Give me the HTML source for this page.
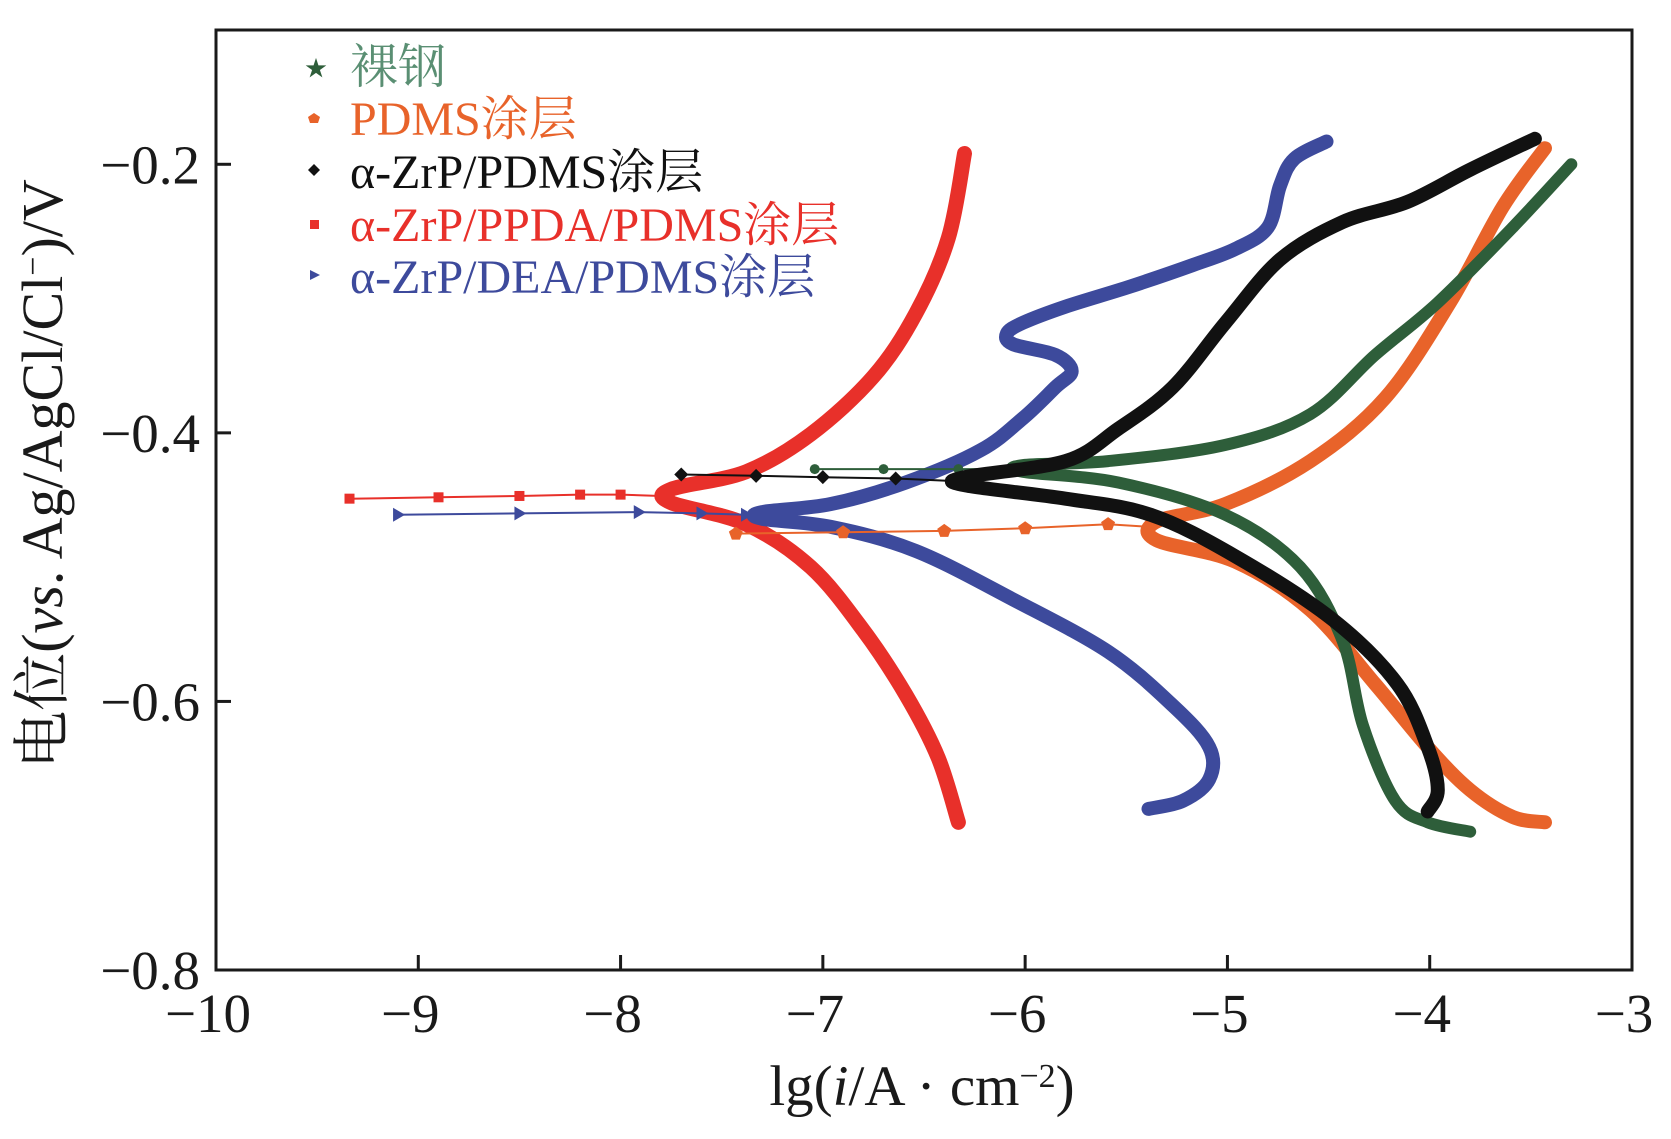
<!DOCTYPE html>
<html><head><meta charset="utf-8"><style>
html,body{margin:0;padding:0;background:#fff}
svg{display:block;font-family:"Liberation Serif","Noto Serif CJK SC",serif}
</style></head><body>
<svg id="chart" width="1671" height="1139" viewBox="0 0 1671 1139" xmlns="http://www.w3.org/2000/svg">
<rect x="216" y="30" width="1416" height="940" fill="none" stroke="#1a1a1a" stroke-width="3"/>
<g id="ticks"></g>
<g id="series"></g>
<g id="legend" font-size="48">
  <g><text x="305" y="76" fill="#2e5e3a" font-size="22">★</text><text x="350" y="83" fill="#5a8f73">裸钢</text></g>
  <g><polygon points="314,113 320,117 318,123 310,123 308,117" fill="#e8632a"/><text x="350" y="135" fill="#e8632a">PDMS涂层</text></g>
  <g><polygon points="314,164 320,170 314,176 308,170" fill="#111"/><text x="350" y="188" fill="#111">α-ZrP/PDMS涂层</text></g>
  <g><rect x="310" y="220" width="9" height="9" fill="#e8302a"/><text x="350" y="241" fill="#e8302a">α-ZrP/PPDA/PDMS涂层</text></g>
  <g><polygon points="310,270 320,275 310,280" fill="#3d4a9c"/><text x="350" y="293" fill="#3d4a9c">α-ZrP/DEA/PDMS涂层</text></g>
</g>
<text x="922" y="1105" font-size="57" text-anchor="middle" fill="#1a1a1a">lg(<tspan font-style="italic">i</tspan>/A · cm<tspan baseline-shift="super" font-size="34">−2</tspan>)</text>
<text transform="translate(62,474) rotate(-90)" font-size="58" text-anchor="middle" fill="#1a1a1a">电位(<tspan font-style="italic">vs</tspan>. Ag/AgCl/Cl<tspan baseline-shift="super" font-size="34">−</tspan>)/V</text>
</svg>
<script>
const xTicks=[-10,-9,-8,-7,-6,-5,-4,-3];
const yTicks=[-0.8,-0.6,-0.4,-0.2];
const yTickLabels=["−0.8","−0.6","−0.4","−0.2"];
const xTickLabels=["−10","−9","−8","−7","−6","−5","−4","−3"];
// series: [lg i, E]
const redLead=[[-9.34,-0.449],[-8.9,-0.448],[-8.5,-0.447],[-8.2,-0.446],[-8.0,-0.446],[-7.8,-0.447]];
const redMain=[[-6.33,-0.690],[-6.43,-0.642],[-6.59,-0.595],[-6.80,-0.547],[-7.06,-0.500],[-7.38,-0.468],[-7.75,-0.452],[-7.75,-0.442],[-7.38,-0.429],[-7.06,-0.401],[-6.75,-0.358],[-6.54,-0.311],[-6.38,-0.255],[-6.30,-0.192]];
const blueLead=[[-9.10,-0.461],[-8.5,-0.460],[-7.91,-0.459],[-7.6,-0.460],[-7.38,-0.461]];
const blueMain=[[-5.39,-0.680],[-5.22,-0.674],[-5.09,-0.658],[-5.09,-0.634],[-5.27,-0.603],[-5.59,-0.563],[-6.06,-0.524],[-6.54,-0.488],[-6.96,-0.470],[-7.3,-0.464],[-7.3,-0.459],[-6.96,-0.453],[-6.59,-0.437],[-6.22,-0.413],[-6.01,-0.389],[-5.85,-0.366],[-5.77,-0.354],[-5.85,-0.342],[-6.06,-0.334],[-6.09,-0.326],[-6.01,-0.318],[-5.80,-0.306],[-5.48,-0.291],[-5.17,-0.275],[-4.96,-0.263],[-4.80,-0.247],[-4.74,-0.216],[-4.67,-0.196],[-4.51,-0.183]];
const blackLead=[[-7.70,-0.431],[-7.33,-0.432],[-7.0,-0.433],[-6.64,-0.434],[-6.33,-0.436]];
const blackMain=[[-4.01,-0.682],[-3.96,-0.666],[-4.01,-0.634],[-4.16,-0.587],[-4.48,-0.539],[-4.96,-0.492],[-5.38,-0.461],[-5.80,-0.449],[-6.3,-0.439],[-6.3,-0.433],[-5.80,-0.421],[-5.54,-0.397],[-5.27,-0.366],[-5.01,-0.318],[-4.74,-0.271],[-4.43,-0.243],[-4.11,-0.228],[-3.80,-0.204],[-3.48,-0.181]];
const greenLead=[[-7.04,-0.427],[-6.7,-0.427],[-6.33,-0.427],[-6.01,-0.427]];
const greenMain=[[-3.80,-0.697],[-4.01,-0.690],[-4.17,-0.674],[-4.33,-0.618],[-4.43,-0.555],[-4.64,-0.500],[-5.01,-0.461],[-5.54,-0.437],[-6.01,-0.429],[-6.01,-0.424],[-5.59,-0.421],[-5.01,-0.409],[-4.59,-0.386],[-4.27,-0.342],[-3.96,-0.303],[-3.59,-0.247],[-3.30,-0.200]];
const orangeLead=[[-7.43,-0.475],[-6.9,-0.474],[-6.4,-0.473],[-6.0,-0.471],[-5.59,-0.468],[-5.38,-0.470]];
const orangeMain=[[-3.43,-0.690],[-3.59,-0.686],[-3.80,-0.666],[-4.01,-0.634],[-4.27,-0.587],[-4.59,-0.532],[-4.96,-0.496],[-5.35,-0.480],[-5.35,-0.466],[-5.01,-0.453],[-4.59,-0.421],[-4.22,-0.374],[-3.90,-0.303],[-3.64,-0.232],[-3.43,-0.188]];

const X0=216,X1=1632,Y0=970,Y1=30;
const sx=v=>X0+(v-(-10))/7*(X1-X0);
const sy=v=>Y0-(v-(-0.8))/0.7*(Y0-Y1);
const NS="http://www.w3.org/2000/svg";
const tg=document.getElementById('ticks');
function mk(tag,attrs,parent){const e=document.createElementNS(NS,tag);for(const k in attrs)e.setAttribute(k,attrs[k]);parent.appendChild(e);return e;}
xTicks.forEach((t,i)=>{
  if(i>0&&i<xTicks.length-1){const l=mk('line',{x1:sx(t),x2:sx(t),y1:Y0,y2:Y0-15,stroke:'#1a1a1a','stroke-width':3},tg);
  
  }
  const tx=mk('text',{x:sx(t)-8,y:Y0+62,'font-size':55,'text-anchor':'middle',fill:'#1a1a1a'},tg);
  tx.textContent=xTickLabels[i];
  
  
});
yTicks.forEach((t,i)=>{
  if(i>0){const l=mk('line',{x1:X0,x2:X0+15,y1:sy(t),y2:sy(t),stroke:'#1a1a1a','stroke-width':3},tg);
  
  }
  const tx=mk('text',{x:X0-16,y:sy(t)+19,'font-size':55,'text-anchor':'end',fill:'#1a1a1a'},tg);
  tx.textContent=yTickLabels[i];
  
  
});
const sg=document.getElementById('series');
function pathD(a){
  const p=a.map(q=>[sx(q[0]),sy(q[1])]);
  let d='M'+p[0][0].toFixed(1)+','+p[0][1].toFixed(1);
  for(let i=0;i<p.length-1;i++){
    const p0=p[Math.max(0,i-1)],p1=p[i],p2=p[i+1],p3=p[Math.min(p.length-1,i+2)];
    const c1=[p1[0]+(p2[0]-p0[0])/6,p1[1]+(p2[1]-p0[1])/6];
    const c2=[p2[0]-(p3[0]-p1[0])/6,p2[1]-(p3[1]-p1[1])/6];
    d+=` C${c1[0].toFixed(1)},${c1[1].toFixed(1)} ${c2[0].toFixed(1)},${c2[1].toFixed(1)} ${p2[0].toFixed(1)},${p2[1].toFixed(1)}`;
  }
  return d;
}
function pts(a){return a.map(p=>sx(p[0]).toFixed(1)+','+sy(p[1]).toFixed(1)).join(' ');}
function marker(shape,x,y,c){
  if(shape==='sq')return mk('rect',{x:x-5,y:y-5,width:10,height:10,fill:c},sg);
  if(shape==='tri')return mk('polygon',{points:`${x-5},${y-7} ${x+7},${y} ${x-5},${y+7}`,fill:c},sg);
  if(shape==='dia')return mk('polygon',{points:`${x},${y-7} ${x+7},${y} ${x},${y+7} ${x-7},${y}`,fill:c},sg);
  if(shape==='pent')return mk('polygon',{points:`${x},${y-7} ${x+7},${y-2} ${x+4},${y+6} ${x-4},${y+6} ${x-7},${y-2}`,fill:c},sg);
  return mk('circle',{cx:x,cy:y,r:5,fill:c},sg);
}
const defs=[
 ['red',redLead,redMain,'#e8302a','sq',15],
 ['blue',blueLead,blueMain,'#3d4a9c','tri',14],
 ['orange',orangeLead,orangeMain,'#e8632a','pent',14],
 ['green',greenLead,greenMain,'#2e5e3a','star',12],
 ['black',blackLead,blackMain,'#111','dia',14]
];
defs.forEach(d=>{
  const lead=mk('polyline',{points:pts(d[1]),fill:'none',stroke:d[3],'stroke-width':2},sg);
  
  
  d[1].forEach(p=>{const m=marker(d[4],sx(p[0]),sy(p[1]),d[3]);
    
    });
  const main=mk('path',{d:pathD(d[2]),fill:'none',stroke:d[3],'stroke-width':d[5],'stroke-linejoin':'round','stroke-linecap':'round'},sg);
  
  
});
</script>
</body></html>
